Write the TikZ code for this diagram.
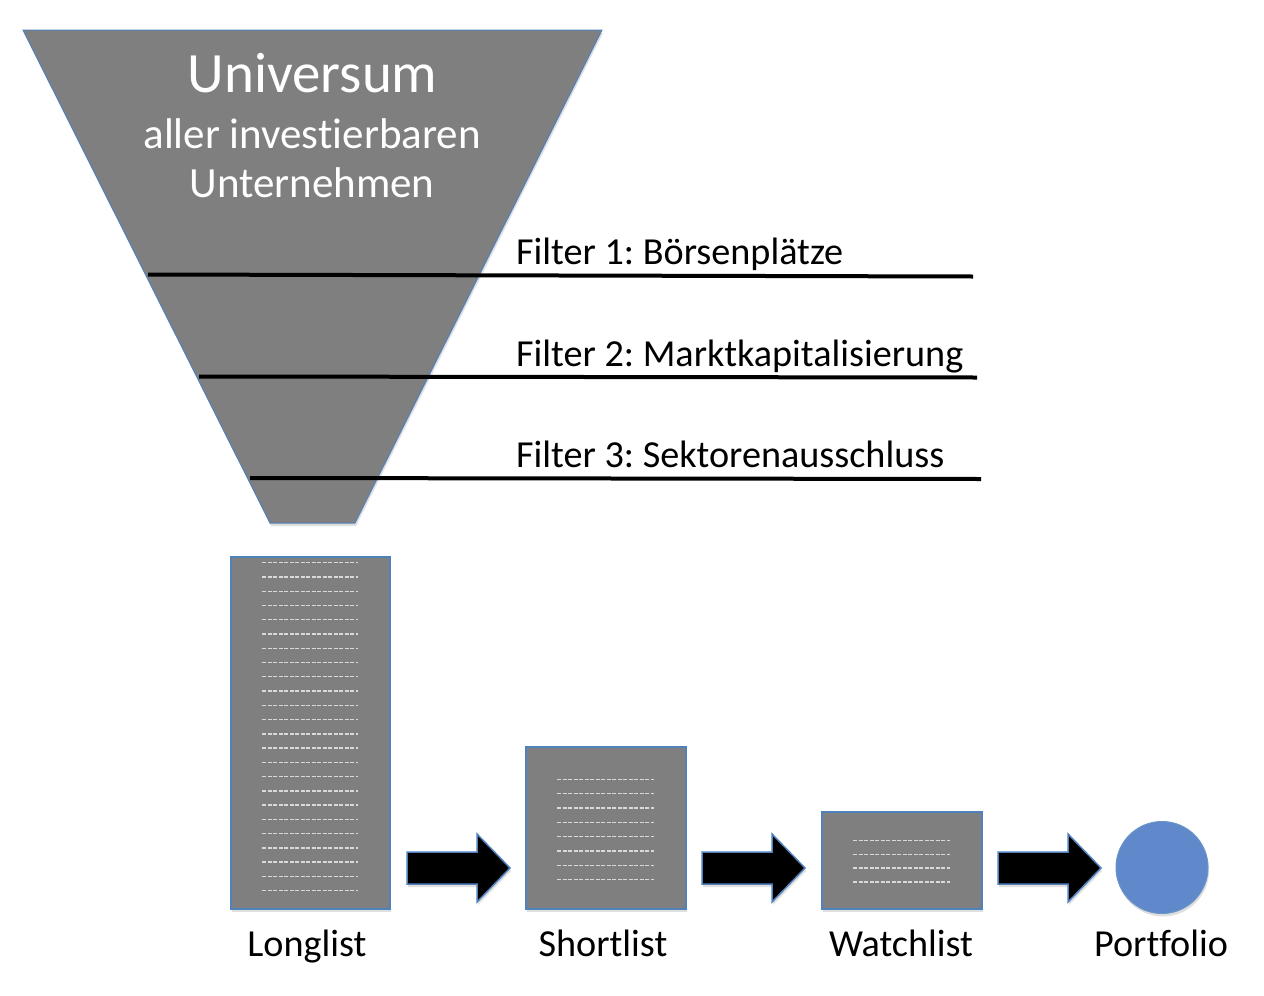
\documentclass[tikz,border=0pt]{standalone}
\usepackage{fontspec}
\setmainfont{Carlito}[Ligatures=NoCommon]
\usetikzlibrary{shadows}
\definecolor{boxgray}{HTML}{7F7F7F}
\definecolor{edgeblue}{HTML}{4F81BD}
\definecolor{dotgray}{HTML}{D9D9D9}
\definecolor{circblue}{HTML}{5F89CB}
\newcommand{\myblockarrow}[1]{%
  \draw[blockarrow] (#1,852) -- (#1+70,852) -- (#1+70,834) -- (#1+103,868) -- (#1+70,902) -- (#1+70,884) -- (#1,884) -- cycle;}
\begin{document}
\frenchspacing
\begin{tikzpicture}[x=1pt,y=-1pt,
  softshadow/.style={drop shadow={opacity=0.25,shadow xshift=1pt,shadow yshift=-3pt}},
  funnel/.style={fill=boxgray,draw=edgeblue,line width=1pt,softshadow},
  listbox/.style={rectangle,fill=boxgray,draw=edgeblue,line width=2pt,inner sep=0pt,softshadow},
  dashline/.style={draw=dotgray,line width=1.4pt,dash pattern=on 4pt off 1.5pt},
  filterline/.style={draw=black,line width=4pt},
  filtertext/.style={anchor=base west,inner sep=0pt,font=\fontsize{38.2}{44}\selectfont},
  labeltext/.style={anchor=base,inner sep=0pt,font=\fontsize{38.2}{44}\selectfont},
  blockarrow/.style={fill=black,draw=edgeblue,line width=1.5pt,softshadow},
  portf/.style={circle,fill=circblue,draw=edgeblue!85,line width=1pt,minimum size=92pt,inner sep=0pt,softshadow}]
\useasboundingbox[fill=white] (0,0) rectangle (1264,996);
% funnel
\draw[funnel] (23,30) -- (602,30) -- (355,523) -- (270,523) -- cycle;
\node[anchor=base,inner sep=0pt,text=white,font=\fontsize{57}{60}\selectfont] (uni) at (312.5,92) {Universum};
\node[anchor=base,inner sep=0pt,text=white,font=\fontsize{43}{48}\selectfont] (aller) at (312,148) {aller investierbaren};
\node[anchor=base,inner sep=0pt,text=white,font=\fontsize{43}{48}\selectfont] (unt) at (312,197) {Unternehmen};
% filters
\draw[filterline] (148,274.5) -- (973,276.5);
\draw[filterline] (199,376.5) -- (977,377.5);
\draw[filterline] (250,478) -- (981,479);
\node[filtertext] (f1) at (516,264) {Filter 1: Börsenplätze};
\node[filtertext] (f2) at (516,366) {Filter 2: Marktkapitalisierung};
\node[filtertext] (f3) at (516,467) {Filter 3: Sektorenausschluss};
% lists
\node[listbox,minimum width=159pt,minimum height=352pt] (long) at (310.5,733) {};
\foreach \i in {0,...,23} \draw[dashline] (262,562.7+14.26*\i) -- (358,562.7+14.26*\i);
\node[listbox,minimum width=160pt,minimum height=162pt] (short) at (605.7,828) {};
\foreach \i in {0,...,7} \draw[dashline] (557,779.3+14.34*\i) -- (654,779.3+14.34*\i);
\node[listbox,minimum width=160pt,minimum height=97pt] (watch) at (901.7,860.3) {};
\foreach \i in {0,...,3} \draw[dashline] (853,840.7+13.7*\i) -- (950,840.7+13.7*\i);
\node[portf] (port) at (1162,867.5) {};
% arrows
\myblockarrow{407}
\myblockarrow{702}
\myblockarrow{998}
% labels
\node[labeltext] (l1) at (307,956) {Longlist};
\node[labeltext] (l2) at (603,956) {Shortlist};
\node[labeltext] (l3) at (901,956) {Watchlist};
\node[labeltext] (l4) at (1161,956) {Portfolio};
\end{tikzpicture}
\end{document}
